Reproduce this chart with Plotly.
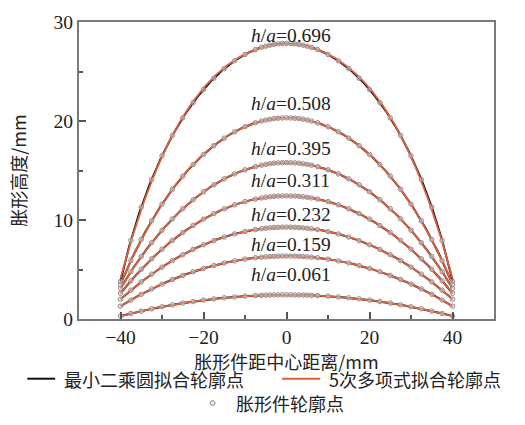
import numpy as np
import plotly.graph_objects as go

# Sample positions along the part (mm from centre)
x_pos = [-40, -37.5, -35, -32.5, -30, -27.5, -25, -22.5, -20, -17.5, -15, -12.5, -10, -7.5,
         -6, -5, -4, -3, -2, -1, 0, 1, 2, 3, 4, 5, 6,
         7.5, 10, 12.5, 15, 17.5, 20, 22.5, 25, 27.5, 30, 32.5, 35, 37.5, 40]

ratio_labels = ["0.696", "0.508", "0.395", "0.311", "0.232", "0.159", "0.061"]

# Measured profile heights (mm) for each h/a
h_0696 = [3.80, 7.95, 11.30, 14.10, 16.48, 18.54, 20.32, 21.86, 23.19, 24.32, 25.29, 26.08, 26.72, 27.22,
          27.44, 27.56, 27.66, 27.74, 27.80, 27.83, 27.84, 27.83, 27.80, 27.74, 27.66, 27.56, 27.44,
          27.22, 26.72, 26.08, 25.29, 24.32, 23.19, 21.86, 20.32, 18.54, 16.48, 14.10, 11.30, 7.95, 3.80]
h_0508 = [3.50, 5.90, 8.03, 9.92, 11.60, 13.10, 14.43, 15.60, 16.62, 17.51, 18.27, 18.91, 19.42, 19.82,
          20.00, 20.10, 20.18, 20.24, 20.28, 20.31, 20.32, 20.31, 20.28, 20.24, 20.18, 20.10, 20.00,
          19.82, 19.42, 18.91, 18.27, 17.51, 16.62, 15.60, 14.43, 13.10, 11.60, 9.92, 8.03, 5.90, 3.50]
h_0395 = [3.10, 4.78, 6.32, 7.71, 8.97, 10.11, 11.14, 12.05, 12.85, 13.56, 14.16, 14.66, 15.07, 15.39,
          15.54, 15.62, 15.68, 15.74, 15.77, 15.79, 15.80, 15.79, 15.77, 15.74, 15.68, 15.62, 15.54,
          15.39, 15.07, 14.66, 14.16, 13.56, 12.85, 12.05, 11.14, 10.11, 8.97, 7.71, 6.32, 4.78, 3.10]
h_0311 = [2.60, 3.86, 5.02, 6.08, 7.05, 7.94, 8.74, 9.45, 10.09, 10.65, 11.13, 11.53, 11.86, 12.11,
          12.23, 12.30, 12.35, 12.39, 12.42, 12.43, 12.44, 12.43, 12.42, 12.39, 12.35, 12.30, 12.23,
          12.11, 11.86, 11.53, 11.13, 10.65, 10.09, 9.45, 8.74, 7.94, 7.05, 6.08, 5.02, 3.86, 2.60]
h_0232 = [2.00, 2.91, 3.75, 4.53, 5.24, 5.90, 6.49, 7.03, 7.50, 7.92, 8.28, 8.59, 8.84, 9.03,
          9.12, 9.17, 9.21, 9.24, 9.26, 9.28, 9.28, 9.28, 9.26, 9.24, 9.21, 9.17, 9.12,
          9.03, 8.84, 8.59, 8.28, 7.92, 7.50, 7.03, 6.49, 5.90, 5.24, 4.53, 3.75, 2.91, 2.00]
h_0159 = [1.30, 1.92, 2.50, 3.04, 3.53, 3.99, 4.40, 4.78, 5.11, 5.40, 5.66, 5.87, 6.05, 6.19,
          6.25, 6.28, 6.31, 6.33, 6.35, 6.36, 6.36, 6.36, 6.35, 6.33, 6.31, 6.28, 6.25,
          6.19, 6.05, 5.87, 5.66, 5.40, 5.11, 4.78, 4.40, 3.99, 3.53, 3.04, 2.50, 1.92, 1.30]
h_0061 = [0.30, 0.56, 0.80, 1.03, 1.24, 1.43, 1.61, 1.76, 1.91, 2.03, 2.14, 2.23, 2.31, 2.37,
          2.39, 2.41, 2.42, 2.43, 2.43, 2.44, 2.44, 2.44, 2.43, 2.43, 2.42, 2.41, 2.39,
          2.37, 2.31, 2.23, 2.14, 2.03, 1.91, 1.76, 1.61, 1.43, 1.24, 1.03, 0.80, 0.56, 0.30]

profiles = [h_0696, h_0508, h_0395, h_0311, h_0232, h_0159, h_0061]

# vertical offset (px) of each h/a label above its crest
label_shift = [8, 14, 14, 15, 13, 12, 20]

BLACK = "#111111"
RED = "#e0603c"
DOT = "#9a8c8c"
SERIF = "Liberation Serif"
CJK = "Noto Sans CJK SC"

fig = go.Figure()
xs = np.array(x_pos, dtype=float)
grid = np.linspace(-40, 40, 401)

for ys_list in profiles:
    ys = np.array(ys_list, dtype=float)
    # least-squares circle fit (algebraic form x^2+y^2+Dx+Ey+F=0)
    A = np.column_stack([xs, ys, np.ones_like(xs)])
    b = -(xs ** 2 + ys ** 2)
    D, E, F = np.linalg.lstsq(A, b, rcond=None)[0]
    xc, yc = -D / 2, -E / 2
    r = np.sqrt(xc ** 2 + yc ** 2 - F)
    circ = yc + np.sqrt(np.clip(r ** 2 - (grid - xc) ** 2, 0, None))
    fig.add_trace(go.Scatter(x=grid, y=circ, mode="lines",
                             line=dict(color=BLACK, width=2), showlegend=False,
                             hoverinfo="skip"))
for ys_list in profiles:
    ys = np.array(ys_list, dtype=float)
    # 5th-order polynomial fit
    coef = np.polyfit(xs, ys, 5)
    fig.add_trace(go.Scatter(x=grid, y=np.polyval(coef, grid), mode="lines",
                             line=dict(color=RED, width=1.8), showlegend=False,
                             hoverinfo="skip"))
for ys_list in profiles:
    fig.add_trace(go.Scatter(x=x_pos, y=ys_list, mode="markers",
                             marker=dict(symbol="circle", size=4.5, color="rgba(220,210,210,0.5)",
                                         line=dict(color=DOT, width=1)),
                             showlegend=False))

for lab, ys_list, dy in zip(ratio_labels, profiles, label_shift):
    fig.add_annotation(x=0, y=max(ys_list), xref="x", yref="y",
                       text="<i>h</i>/<i>a</i>=" + lab, showarrow=False,
                       xshift=4, yshift=dy, yanchor="middle",
                       font=dict(family=SERIF, size=19.5, color="#222"))

# legend drawn in paper space
legend_items = [
    dict(kind="line", color=BLACK, x0=0.052, x1=0.105, tx=0.118, ty=-0.201,
         text="最小二乘圆拟合轮廓点"),
    dict(kind="line", color=RED, x0=0.537, x1=0.61, tx=0.622, ty=-0.201,
         text="5次多项式拟合轮廓点"),
    dict(kind="dot", color=DOT, x0=0.405, x1=0.405, tx=0.445, ty=-0.283,
         text="胀形件轮廓点"),
]
PW = 415.0
for it in legend_items:
    if it["kind"] == "line":
        fig.add_shape(type="line", xref="paper", yref="paper",
                      x0=(it["x0"] * 525 - 79) / PW, x1=(it["x1"] * 525 - 79) / PW,
                      y0=it["ty"], y1=it["ty"], line=dict(color=it["color"], width=2))
    else:
        cx = (it["x0"] * 525 - 79) / PW
        fig.add_shape(type="circle", xref="paper", yref="paper",
                      x0=cx - 2.5 / PW, x1=cx + 2.5 / PW,
                      y0=it["ty"] - 2.5 / 303, y1=it["ty"] + 2.5 / 303,
                      line=dict(color=it["color"], width=1),
                      fillcolor="rgba(220,210,210,0.6)")
    fig.add_annotation(x=(it["tx"] * 525 - 79) / PW, y=it["ty"], xref="paper", yref="paper",
                       text=it["text"], showarrow=False, xanchor="left", yanchor="middle",
                       font=dict(family=CJK, size=18, color="#222"))

axis_common = dict(showline=True, linecolor="#7a7a7a", linewidth=2, mirror=True,
                   ticks="inside", ticklen=7, tickwidth=1.5, tickcolor="#555",
                   showgrid=False, zeroline=False,
                   tickfont=dict(family=SERIF, size=19.5, color="#222"))

fig.update_xaxes(range=[-50, 50], tickvals=[-40, -20, 0, 20, 40],
                 ticktext=["\u221240", "\u221220", "0", "20", "40"],
                 minor=dict(dtick=10, tick0=-30, ticks="inside", ticklen=4, tickcolor="#555"),
                 title=dict(text="胀形件距中心距离/mm", font=dict(family=CJK, size=18, color="#222"),
                            standoff=9),
                 **axis_common)
fig.update_yaxes(range=[0, 30], tickvals=[0, 10, 20, 30],
                 minor=dict(dtick=5, tick0=0, ticks="inside", ticklen=4, tickcolor="#555"),
                 title=dict(text="胀形高度/mm", font=dict(family=CJK, size=18, color="#222"),
                            standoff=22),
                 **axis_common)

fig.update_layout(width=525, height=425,
                  margin=dict(l=79, r=31, t=16, b=106),
                  plot_bgcolor="white", paper_bgcolor="white",
                  showlegend=False)

fig.write_html("out.html")
